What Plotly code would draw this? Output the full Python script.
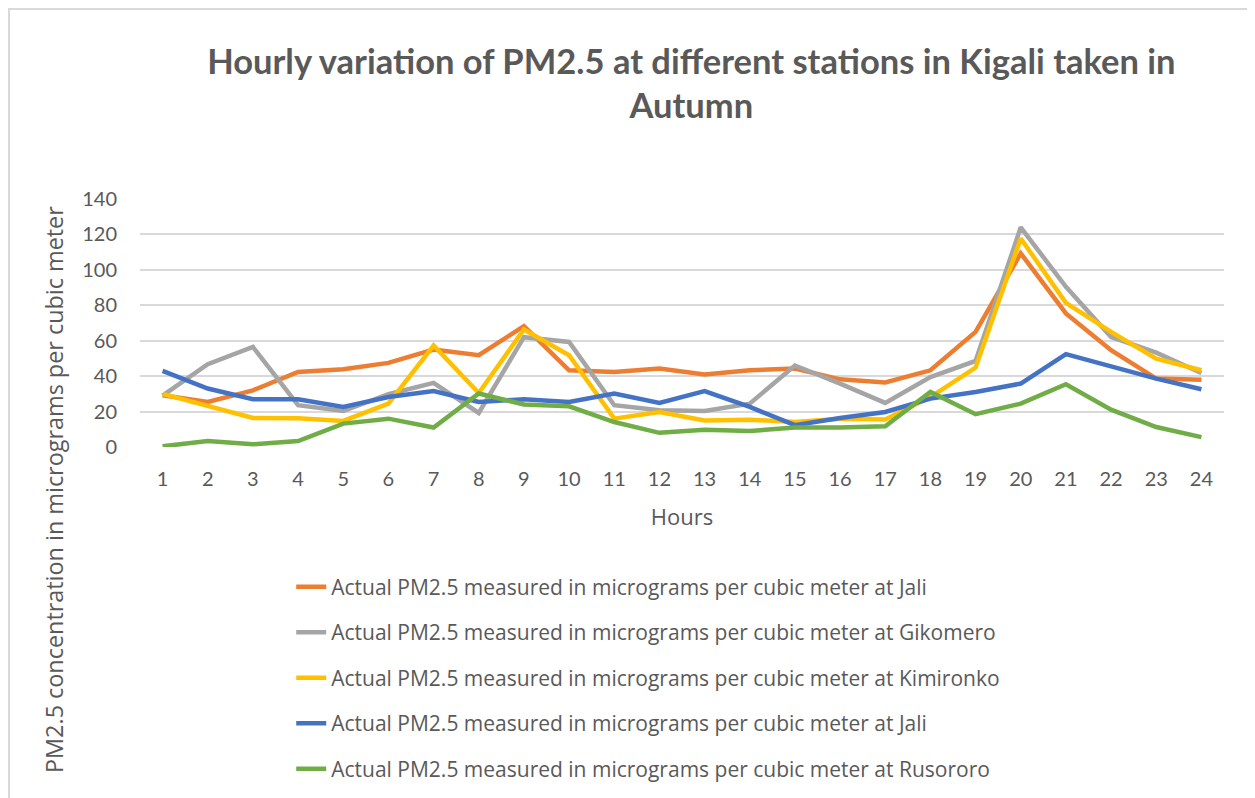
import plotly.graph_objects as go

hours = list(range(1, 25))
hour_labels = [str(h) for h in hours]

jali_1 = [29.2, 25.4, 32.0, 42.4, 43.9, 47.5, 55.0, 51.8, 68.2, 43.3, 42.4, 44.3,
          41.0, 43.3, 44.3, 38.2, 36.4, 43.3, 65.0, 109.3, 75.4, 54.6, 38.6, 38.0]
gikomero = [29.0, 46.7, 56.5, 23.6, 20.3, 29.8, 36.2, 19.2, 62.0, 59.3, 23.6, 20.7,
            20.3, 24.5, 46.0, 35.8, 24.9, 39.5, 48.6, 124.0, 90.4, 62.1, 53.3, 41.8]
kimironko = [30.0, 23.0, 16.4, 16.2, 14.7, 24.5, 57.3, 30.5, 66.3, 51.8, 16.0, 19.8,
             15.0, 15.4, 14.1, 16.0, 15.5, 28.2, 44.8, 117.7, 81.4, 65.0, 49.9, 43.3]
jali_2 = [43.0, 33.0, 27.0, 27.0, 22.6, 28.2, 31.6, 25.4, 27.0, 25.4, 30.2, 24.9,
          31.6, 22.6, 12.3, 16.4, 19.8, 27.3, 31.1, 35.8, 52.4, 45.2, 38.6, 32.6]
rusororo = [0.4, 3.4, 1.5, 3.4, 13.2, 16.0, 11.0, 30.2, 24.0, 23.0, 14.1, 8.0,
            9.8, 9.0, 11.0, 11.0, 11.7, 31.1, 18.5, 24.5, 35.4, 21.1, 11.3, 5.6]

series_names = [
    "Actual PM2.5 measured in micrograms per cubic meter at Jali",
    "Actual PM2.5 measured in micrograms per cubic meter at Gikomero",
    "Actual PM2.5 measured in micrograms per cubic meter at Kimironko",
    "Actual PM2.5 measured in micrograms per cubic meter at Jali",
    "Actual PM2.5 measured in micrograms per cubic meter at Rusororo",
]
series_values = [jali_1, gikomero, kimironko, jali_2, rusororo]
series_colors = ["#ED7D31", "#A5A5A5", "#FFC000", "#4472C4", "#70AD47"]

y_ticks = [0, 20, 40, 60, 80, 100, 120, 140]

TITLE_FONT = "Lato"
TEXT_FONT = "Open Sans"
TICK_FONT = "Lato"
TXT = "#595959"

W, H = 1247, 790
ML, MT, PW, PH = 132, 191, 1084, 248

fig = go.Figure()
for i, (name, vals, col) in enumerate(zip(series_names, series_values, series_colors)):
    fig.add_trace(go.Scatter(
        x=hours, y=vals, mode="lines", name=name,
        line=dict(color=col, width=4.5),
        legendgroup=f"g{i}",
    ))

fig.update_layout(
    width=W, height=H,
    paper_bgcolor="white", plot_bgcolor="white",
    margin=dict(l=ML, r=W - ML - PW, t=MT, b=H - MT - PH, autoexpand=False),
    font=dict(family=TEXT_FONT, color=TXT),
    title=dict(
        text="Hourly variation of PM2.5 at different stations in Kigali taken in<br>Autumn",
        x=0.548, xanchor="center", xref="container",
        y=0.917, yanchor="top", yref="container",
        font=dict(family=TITLE_FONT, size=34.5, color=TXT, weight="bold"),
    ),
    legend=dict(
        orientation="v",
        x=0.1395, xanchor="left", xref="paper",
        y=-0.482, yanchor="top", yref="paper",
        font=dict(family=TEXT_FONT, size=21, color=TXT),
        tracegroupgap=15.2,
        bgcolor="rgba(0,0,0,0)",
    ),
    showlegend=True,
)

fig.update_xaxes(
    range=[0.5, 24.5],
    tickmode="array", tickvals=hours, ticktext=hour_labels,
    showgrid=False, zeroline=False, showline=False,
    ticks="", ticklabelstandoff=18,
    tickfont=dict(family=TICK_FONT, size=20, color=TXT),
    title=dict(text="Hours", font=dict(family=TEXT_FONT, size=22, color=TXT), standoff=20),
)
fig.update_yaxes(
    range=[0, 140],
    tickmode="array", tickvals=y_ticks,
    showgrid=True, gridcolor="#D9D9D9", gridwidth=1.5,
    zeroline=False, showline=False,
    ticks="", ticklabelstandoff=22,
    tickfont=dict(family=TICK_FONT, size=20, color=TXT),
)

fig.add_annotation(
    text="PM2.5 concentration in micrograms per cubic meter",
    xref="paper", yref="paper",
    x=-(140 - 54) / PW, y=(447 - 490) / PH,
    xanchor="center", yanchor="middle",
    textangle=-90, showarrow=False,
    font=dict(family=TEXT_FONT, size=23.4, color=TXT),
)

fig.add_shape(
    type="rect", xref="paper", yref="paper",
    x0=-(ML - 1) / PW, x1=(W + 10 - ML) / PW,
    y0=-(H + 10 - MT - PH) / PH, y1=(MT + PH - 1) / PH,
    line=dict(color="#D9D9D9", width=2), fillcolor="rgba(0,0,0,0)",
    layer="below",
)

fig.write_html("out.html")
